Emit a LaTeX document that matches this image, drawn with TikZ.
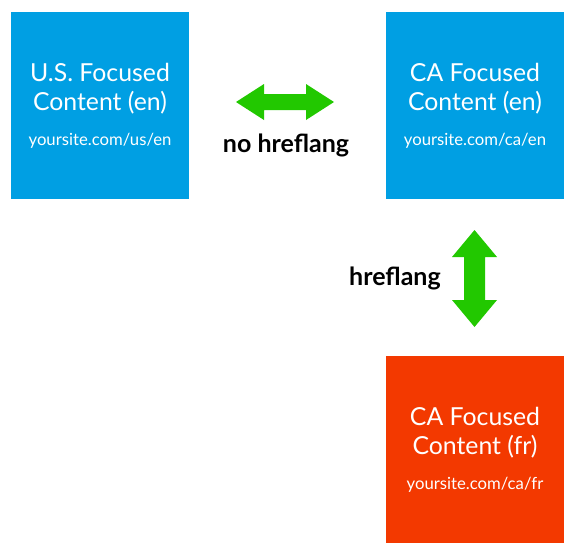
\documentclass[tikz,border=0pt]{standalone}
\usepackage{fontspec}
\setmainfont{Lato}
\definecolor{usblue}{HTML}{009FE3}
\definecolor{frorange}{HTML}{F33900}
\definecolor{arrowgreen}{HTML}{22C800}
\tikzset{
  site/.style={minimum width=178pt,minimum height=187pt,inner sep=0pt,
    text=white,align=center,font=\fontsize{24.8}{29}\selectfont},
  tag/.style={font=\fontsize{25}{28}\selectfont\bfseries,text=black,inner sep=0pt}
}
\newcommand{\siteurl}[1]{\\[6pt]{\fontsize{16.7}{18}\selectfont #1}}
\begin{document}
\begin{tikzpicture}[x=1pt,y=-1pt]
  \useasboundingbox (0,0) rectangle (575,555);

  % Content boxes
  \node[site,fill=usblue] (us) at (100,105.5)
    {U.S. Focused\\Content (en)\siteurl{yoursite.com/us/en}};
  \node[site,fill=usblue] (caen) at (475,105.5)
    {CA Focused\\Content (en)\siteurl{yoursite.com/ca/en}};
  \node[site,fill=frorange] (cafr) at (475,449.5)
    {CA Focused\\Content (fr)\siteurl{yoursite.com/ca/fr}};

  % Double arrows
  \fill[arrowgreen] (236,102) -- (264,84) -- (264,94) -- (306,94) -- (306,84)
    -- (334,102) -- (306,120) -- (306,110) -- (264,110) -- (264,120) -- cycle;
  \fill[arrowgreen] (474.5,230) -- (497,257) -- (485,257) -- (485,300) -- (497,300)
    -- (474.5,327) -- (452,300) -- (464,300) -- (464,257) -- (452,257) -- cycle;

  % Labels
  \node[tag] (nohref) at (286,145) {no hreflang};
  \node[tag] (href) at (395,278) {hreflang};
\end{tikzpicture}
\end{document}
